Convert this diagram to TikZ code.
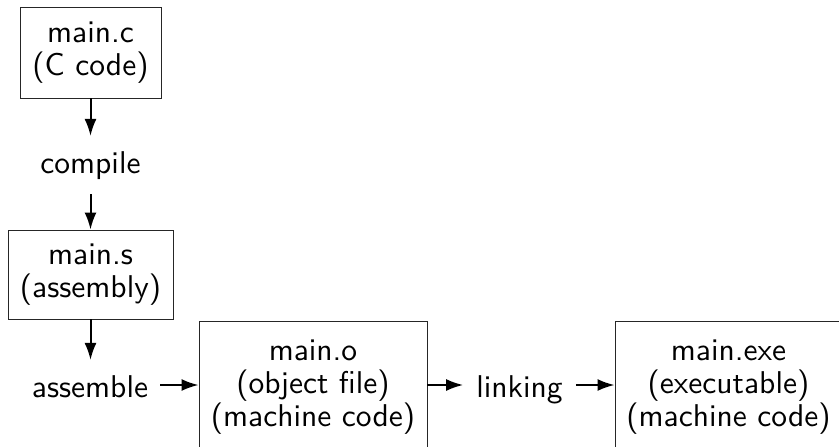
\documentclass[tikz,border=0pt]{standalone}
\usepackage{fontspec}
\setsansfont{lmsans10-regular.otf}
\usetikzlibrary{arrows.meta}
\begin{document}
\begin{tikzpicture}[x=1pt,y=-1pt,
  every node/.style={font=\fontsize{31.5}{33}\selectfont\sffamily},
  stagebox/.style={draw=black!85, line width=0.9pt, align=center, inner sep=0pt},
  steplabel/.style={inner xsep=12pt, inner ysep=15pt},
  flow/.style={line width=2pt, -{Latex[length=17pt,width=12pt]}}]
\useasboundingbox (0,0) rectangle (839,447);
\node[stagebox, minimum width=141pt, minimum height=91pt] (c) at (90.5,52.5) {main.c\\(C code)};
\node[steplabel, anchor=base] (compile) at (90.5,173) {compile};
\node[stagebox, minimum width=165pt, minimum height=89pt] (s) at (90.5,274.5) {main.s\\(assembly)};
\node[steplabel, anchor=base] (assemble) at (90,397) {assemble};
\node[stagebox, minimum width=228pt, minimum height=132pt] (o) at (313,387) {main.o\\(object file)\\(machine code)};
\node[steplabel, inner xsep=13pt, anchor=base] (linking) at (519.5,397) {linking};
\node[stagebox, minimum width=227pt, minimum height=132pt] (exe) at (728.5,387) {main.exe\\(executable)\\(machine code)};
\draw[flow] (c.south) -- (c.south |- compile.north);
\draw[flow] (compile.south) -- (compile.south |- s.north);
\draw[flow] (s.south) -- (s.south |- assemble.north);
\coordinate (arow) at (0,385);
\draw[flow] (assemble.east |- arow) -- (o.west |- arow);
\draw[flow] (o.east |- arow) -- (linking.west |- arow);
\draw[flow] (linking.east |- arow) -- (exe.west |- arow);
\end{tikzpicture}
\end{document}
